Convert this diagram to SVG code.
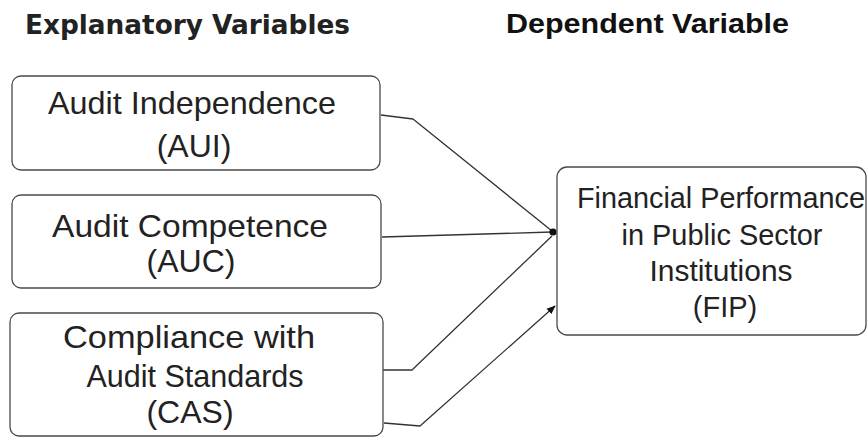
<svg xmlns="http://www.w3.org/2000/svg" width="868" height="438" viewBox="0 0 868 438">
<style>
.box{fill:#fff;stroke:#4a4a4a;stroke-width:1.3}
.t{font-family:"Liberation Sans",Arial,sans-serif;font-size:32px;fill:#222;text-anchor:middle}
.f{font-family:"Liberation Sans",Arial,sans-serif;font-size:29px;fill:#222;text-anchor:middle}
.c{fill:none;stroke:#333;stroke-width:1.3;stroke-linejoin:round}
</style>
<defs>
<marker id="arr" viewBox="0 0 10 10" refX="9" refY="5" markerWidth="9" markerHeight="9" markerUnits="userSpaceOnUse" orient="auto">
<path d="M0,1 L10,5 L0,9 z" fill="#111"/>
</marker>
</defs>
<rect width="868" height="438" fill="#fff"/>
<text x="25" y="34" font-family="DejaVu Sans, sans-serif" font-weight="bold" font-size="27" fill="#222" textLength="325" lengthAdjust="spacingAndGlyphs">Explanatory Variables</text>
<text x="506" y="33" font-family="Liberation Sans, Arial, sans-serif" font-weight="bold" font-size="28" fill="#111" textLength="283" lengthAdjust="spacingAndGlyphs">Dependent Variable</text>
<g id="connectors">
<path class="c" d="M381,115 L413,119 L552,231"/>
<path class="c" d="M382,237 L552,232"/>
<path class="c" d="M383,370 L412,370 L552,236"/>
<path class="c" d="M384,423 L420,426 L555,306" marker-end="url(#arr)"/>
<circle cx="553" cy="232" r="3.6" fill="#111"/>
</g>
<g id="AUI">
<rect class="box" x="12" y="76" width="368" height="94" rx="9"/>
<text class="t" x="192" y="114" textLength="288" lengthAdjust="spacingAndGlyphs">Audit Independence</text>
<text class="t" x="194" y="157">(AUI)</text>
</g>
<g id="AUC">
<rect class="box" x="12" y="195" width="369" height="93" rx="9"/>
<text class="t" x="190" y="237" textLength="276" lengthAdjust="spacingAndGlyphs">Audit Competence</text>
<text class="t" x="191" y="272">(AUC)</text>
</g>
<g id="CAS">
<rect class="box" x="10" y="313" width="373" height="123" rx="9"/>
<text class="t" x="189" y="348" textLength="252" lengthAdjust="spacingAndGlyphs">Compliance with</text>
<text class="t" x="195" y="387" textLength="217" lengthAdjust="spacingAndGlyphs">Audit Standards</text>
<text class="t" x="190" y="423">(CAS)</text>
</g>
<g id="FIP">
<rect class="box" x="557" y="167" width="309" height="168" rx="10"/>
<text class="f" x="721" y="208" textLength="288" lengthAdjust="spacingAndGlyphs">Financial Performance</text>
<text class="f" x="722" y="245" textLength="201" lengthAdjust="spacingAndGlyphs">in Public Sector</text>
<text class="f" x="721" y="281" textLength="143" lengthAdjust="spacingAndGlyphs">Institutions</text>
<text class="f" x="725" y="317">(FIP)</text>
</g>
</svg>
